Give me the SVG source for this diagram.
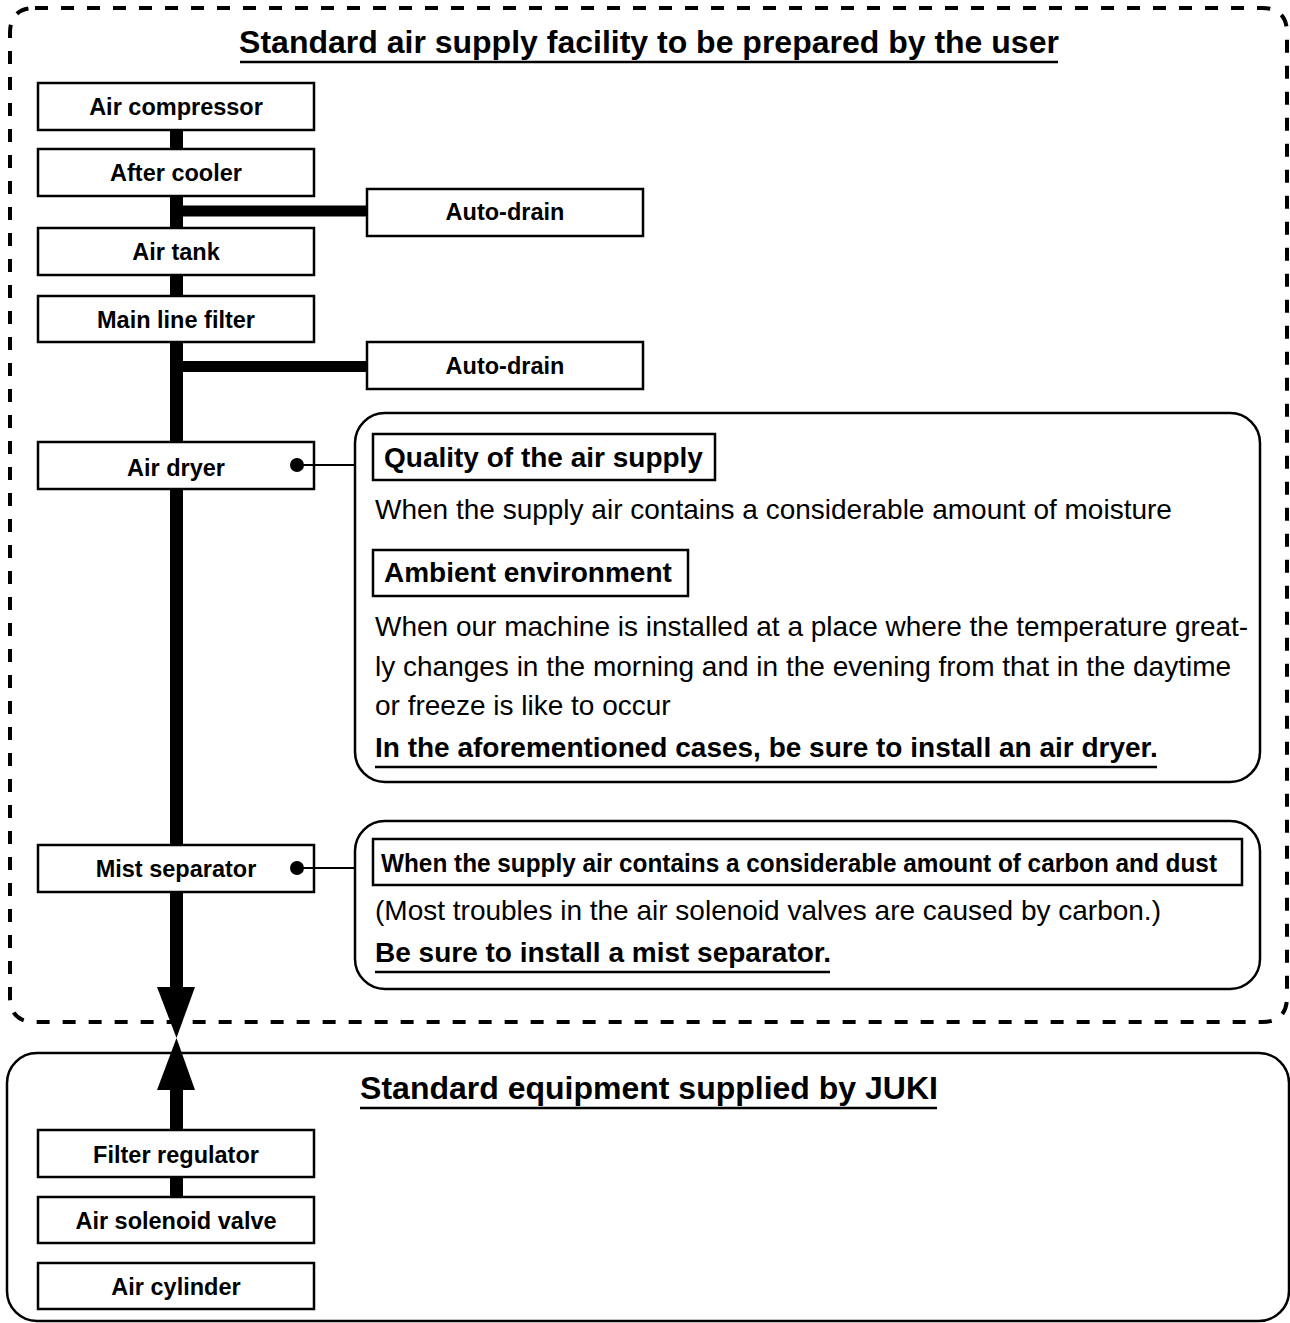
<svg xmlns="http://www.w3.org/2000/svg" width="1290" height="1323" viewBox="0 0 1290 1323">
<style>
text{font-family:"Liberation Sans",Arial,sans-serif;fill:#000}
.node rect{fill:#fff;stroke:#000;stroke-width:2.5}
.lbl{font-size:23.5px;font-weight:bold;text-anchor:middle}
.title{font-size:32px;font-weight:bold;text-anchor:middle}
.head{font-size:28px;font-weight:bold}
.narrow{font-size:25px;font-weight:bold}
.body{font-size:28px}
.bold{font-size:28px;font-weight:bold}
.pipe{stroke:#000;stroke-width:13;fill:none}
.ul{stroke:#000;stroke-width:2.5}
.callout{fill:#fff;stroke:#000;stroke-width:2.5}
.hbox{fill:#fff;stroke:#000;stroke-width:2.5}
</style>
<g id="user-area">
<path d="M35,8 H1262 Q1287,8 1287,33 V997 Q1287,1022 1262,1022 H35 Q10,1022 10,997 V33 Q10,8 35,8 Z" fill="none" stroke="#000" stroke-width="4" stroke-dasharray="13 13"/>
<text class="title" x="649" y="53">Standard air supply facility to be prepared by the user</text>
<line class="ul" x1="240" y1="62" x2="1058" y2="62"/>
</g>
<g id="juki-area">
<rect x="7" y="1053" width="1282" height="268" rx="30" ry="30" fill="none" stroke="#000" stroke-width="2.5"/>
<text class="title" x="649" y="1099">Standard equipment supplied by JUKI</text>
<line class="ul" x1="360" y1="1108" x2="937" y2="1108"/>
</g>
<g id="air-compressor" class="node"><rect x="38" y="83" width="276" height="47"/><text class="lbl" x="176" y="115">Air compressor</text></g>
<g id="after-cooler" class="node"><rect x="38" y="149" width="276" height="47"/><text class="lbl" x="176" y="181">After cooler</text></g>
<g id="auto-drain-1" class="node"><rect x="367" y="189" width="276" height="47"/><text class="lbl" x="505" y="220">Auto-drain</text></g>
<g id="air-tank" class="node"><rect x="38" y="228" width="276" height="47"/><text class="lbl" x="176" y="260">Air tank</text></g>
<g id="main-line-filter" class="node"><rect x="38" y="296" width="276" height="46"/><text class="lbl" x="176" y="328">Main line filter</text></g>
<g id="auto-drain-2" class="node"><rect x="367" y="342" width="276" height="47"/><text class="lbl" x="505" y="374">Auto-drain</text></g>
<g id="air-dryer" class="node"><rect x="38" y="442" width="276" height="47"/><text class="lbl" x="176" y="476">Air dryer</text></g>
<g id="mist-separator" class="node"><rect x="38" y="845" width="276" height="47"/><text class="lbl" x="176" y="877">Mist separator</text></g>
<g id="filter-regulator" class="node"><rect x="38" y="1130" width="276" height="47"/><text class="lbl" x="176" y="1163">Filter regulator</text></g>
<g id="air-solenoid-valve" class="node"><rect x="38" y="1197" width="276" height="46"/><text class="lbl" x="176" y="1229">Air solenoid valve</text></g>
<g id="air-cylinder" class="node"><rect x="38" y="1263" width="276" height="46"/><text class="lbl" x="176" y="1295">Air cylinder</text></g>
<g id="callout-air-dryer">
<rect class="callout" x="355" y="413" width="905" height="369" rx="30" ry="30"/>
<rect class="hbox" x="373" y="434" width="342" height="46"/>
<text class="head" x="384" y="467">Quality of the air supply</text>
<text class="body" x="375" y="519">When the supply air contains a considerable amount of moisture</text>
<rect class="hbox" x="373" y="550" width="315" height="46"/>
<text class="head" x="384" y="582">Ambient environment</text>
<text class="body" x="375" y="636">When our machine is installed at a place where the temperature great-</text>
<text class="body" x="375" y="676">ly changes in the morning and in the evening from that in the daytime</text>
<text class="body" x="375" y="715">or freeze is like to occur</text>
<text class="bold" x="375" y="757">In the aforementioned cases, be sure to install an air dryer.</text>
<line class="ul" x1="375" y1="767" x2="1157" y2="767"/>
</g>
<g id="callout-mist-separator">
<rect class="callout" x="355" y="821" width="905" height="168" rx="30" ry="30"/>
<rect class="hbox" x="373" y="839" width="869" height="46"/>
<text class="narrow" x="381" y="872" textLength="836" lengthAdjust="spacingAndGlyphs">When the supply air contains a considerable amount of carbon and dust</text>
<text class="body" x="375" y="920">(Most troubles in the air solenoid valves are caused by carbon.)</text>
<text class="bold" x="375" y="962">Be sure to install a mist separator.</text>
<line class="ul" x1="375" y1="972" x2="830" y2="972"/>
</g>
<g id="connectors">
<line class="pipe" x1="176.5" y1="131" x2="176.5" y2="148"/>
<line class="pipe" x1="176.5" y1="197" x2="176.5" y2="227"/>
<line class="pipe" x1="176.5" y1="276" x2="176.5" y2="295"/>
<line class="pipe" x1="176.5" y1="343" x2="176.5" y2="441"/>
<line class="pipe" x1="176.5" y1="490" x2="176.5" y2="844"/>
<line class="pipe" x1="176.5" y1="893" x2="176.5" y2="990"/>
<line x1="183" y1="211" x2="366" y2="211" stroke="#000" stroke-width="11"/>
<line x1="183" y1="366.5" x2="366" y2="366.5" stroke="#000" stroke-width="11"/>
<polygon points="157,987 195,987 176.5,1038" fill="#000"/>
<polygon points="176.5,1038 157,1090 195,1090" fill="#000"/>
<line class="pipe" x1="176.5" y1="1088" x2="176.5" y2="1129"/>
<line class="pipe" x1="176.5" y1="1178" x2="176.5" y2="1196"/>
<circle cx="297" cy="465" r="7" fill="#000"/>
<line x1="297" y1="465" x2="355" y2="465" stroke="#000" stroke-width="2"/>
<circle cx="297" cy="868" r="7" fill="#000"/>
<line x1="297" y1="868" x2="355" y2="868" stroke="#000" stroke-width="2"/>
</g>
</svg>
